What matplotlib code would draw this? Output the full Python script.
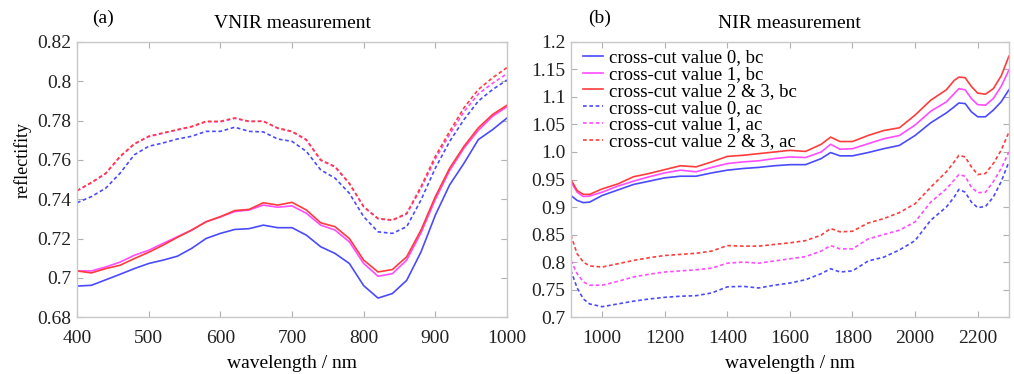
"""
Spectres de réflectivité VNIR / NIR (cross-cut values, bc / ac)
"""
import matplotlib
matplotlib.use('Agg')
import matplotlib.pyplot as plt

# VNIR
wl_vnir = [400, 420, 440, 460, 480, 500, 520, 540, 560, 580, 600, 620, 640, 660, 680, 700,
           720, 740, 760, 780, 800, 820, 840, 860, 880, 900, 920, 940, 960, 980, 1000]
vnir_bc0 = [0.6958, 0.6962, 0.6990, 0.7018, 0.7047, 0.7073, 0.7090, 0.7110, 0.7150, 0.7200, 0.7226,
            0.7246, 0.7250, 0.7268, 0.7255, 0.7255, 0.7217, 0.7158, 0.7124, 0.7073, 0.6960, 0.6897,
            0.6920, 0.6987, 0.7132, 0.7319, 0.7473, 0.7583, 0.7703, 0.7754, 0.7813]
vnir_bc1 = [0.7035, 0.7035, 0.7055, 0.7080, 0.7115, 0.7140, 0.7175, 0.7209, 0.7243, 0.7285, 0.7310,
            0.7337, 0.7345, 0.7370, 0.7359, 0.7366, 0.7328, 0.7268, 0.7243, 0.7183, 0.7073, 0.7008,
            0.7021, 0.7090, 0.7229, 0.7399, 0.7546, 0.7660, 0.7750, 0.7822, 0.7870]
vnir_bc23 = [0.7035, 0.7025, 0.7047, 0.7064, 0.7098, 0.7130, 0.7166, 0.7206, 0.7243, 0.7285, 0.7311,
             0.7342, 0.7348, 0.7382, 0.7370, 0.7384, 0.7345, 0.7280, 0.7260, 0.7200, 0.7090, 0.7030,
             0.7042, 0.7107, 0.7243, 0.7413, 0.7558, 0.7669, 0.7763, 0.7831, 0.7878]
vnir_ac0 = [0.7382, 0.7413, 0.7456, 0.7532, 0.7626, 0.7669, 0.7686, 0.7706, 0.7720, 0.7745, 0.7745,
            0.7766, 0.7745, 0.7742, 0.7706, 0.7694, 0.7643, 0.7549, 0.7507, 0.7430, 0.7311, 0.7234,
            0.7226, 0.7260, 0.7396, 0.7558, 0.7694, 0.7805, 0.7899, 0.7958, 0.8006]
vnir_ac1 = [0.7442, 0.7483, 0.7530, 0.7615, 0.7680, 0.7718, 0.7735, 0.7752, 0.7768, 0.7794, 0.7793,
            0.7811, 0.7795, 0.7797, 0.7760, 0.7743, 0.7700, 0.7597, 0.7563, 0.7479, 0.7360, 0.7300,
            0.7292, 0.7324, 0.7455, 0.7605, 0.7730, 0.7845, 0.7935, 0.7990, 0.8038]
vnir_ac23 = [0.7444, 0.7485, 0.7532, 0.7618, 0.7682, 0.7720, 0.7737, 0.7754, 0.7770, 0.7796, 0.7796,
             0.7813, 0.7796, 0.7796, 0.7762, 0.7745, 0.7703, 0.7600, 0.7566, 0.7481, 0.7362, 0.7302,
             0.7294, 0.7328, 0.7464, 0.7618, 0.7745, 0.7865, 0.7958, 0.8018, 0.8069]

# NIR
wl_nir = [900, 920, 940, 960, 1000, 1050, 1100, 1150, 1200, 1250, 1300, 1350, 1400, 1450, 1500,
          1550, 1600, 1650, 1700, 1730, 1760, 1800, 1850, 1900, 1950, 2000, 2050, 2100, 2125,
          2140, 2160, 2180, 2200, 2225, 2250, 2275, 2300]
nir_bc0 = [0.921, 0.912, 0.908, 0.909, 0.921, 0.931, 0.941, 0.947, 0.953, 0.956, 0.956, 0.962, 0.967,
           0.970, 0.972, 0.975, 0.977, 0.977, 0.988, 0.999, 0.993, 0.993, 0.999, 1.006, 1.012, 1.030,
           1.053, 1.071, 1.082, 1.089, 1.088, 1.073, 1.064, 1.064, 1.076, 1.091, 1.113]
nir_bc1 = [0.946, 0.927, 0.919, 0.920, 0.927, 0.938, 0.947, 0.955, 0.962, 0.967, 0.964, 0.972, 0.979,
           0.982, 0.984, 0.988, 0.991, 0.990, 1.000, 1.014, 1.005, 1.006, 1.015, 1.024, 1.030, 1.049,
           1.074, 1.091, 1.106, 1.115, 1.113, 1.097, 1.086, 1.085, 1.097, 1.119, 1.149]
nir_bc23 = [0.950, 0.930, 0.923, 0.923, 0.933, 0.942, 0.955, 0.961, 0.968, 0.975, 0.973, 0.982, 0.992,
            0.994, 0.997, 1.000, 1.003, 1.001, 1.014, 1.027, 1.019, 1.019, 1.030, 1.039, 1.044, 1.067,
            1.094, 1.113, 1.130, 1.136, 1.135, 1.119, 1.107, 1.105, 1.115, 1.138, 1.174]
nir_ac0 = [0.785, 0.753, 0.733, 0.724, 0.719, 0.724, 0.729, 0.733, 0.736, 0.738, 0.739, 0.744, 0.755,
           0.756, 0.753, 0.758, 0.762, 0.768, 0.779, 0.788, 0.782, 0.784, 0.802, 0.809, 0.822, 0.839,
           0.876, 0.900, 0.918, 0.932, 0.927, 0.909, 0.899, 0.901, 0.918, 0.946, 0.982]
nir_ac1 = [0.803, 0.779, 0.764, 0.758, 0.758, 0.765, 0.773, 0.778, 0.782, 0.784, 0.786, 0.789, 0.798,
           0.800, 0.798, 0.802, 0.806, 0.810, 0.820, 0.830, 0.824, 0.824, 0.842, 0.850, 0.858, 0.873,
           0.909, 0.933, 0.949, 0.959, 0.956, 0.936, 0.926, 0.927, 0.946, 0.970, 1.000]
nir_ac23 = [0.849, 0.815, 0.800, 0.793, 0.791, 0.797, 0.803, 0.808, 0.812, 0.814, 0.816, 0.820, 0.830,
            0.829, 0.829, 0.832, 0.835, 0.839, 0.849, 0.861, 0.855, 0.856, 0.871, 0.879, 0.890, 0.906,
            0.936, 0.964, 0.982, 0.994, 0.991, 0.973, 0.959, 0.961, 0.979, 1.003, 1.036]

labels = ['cross-cut value 0, bc', 'cross-cut value 1, bc', 'cross-cut value 2 & 3, bc',
          'cross-cut value 0, ac', 'cross-cut value 1, ac', 'cross-cut value 2 & 3, ac']
vnir_ticks_y = [0.68, 0.70, 0.72, 0.74, 0.76, 0.78, 0.80, 0.82]
vnir_ticklabels_y = ['0.68', '0.7', '0.72', '0.74', '0.76', '0.78', '0.8', '0.82']
nir_ticks_y = [0.7, 0.75, 0.8, 0.85, 0.9, 0.95, 1.0, 1.05, 1.1, 1.15, 1.2]
nir_ticklabels_y = ['0.7', '0.75', '0.8', '0.85', '0.9', '0.95', '1.0', '1.05', '1.1', '1.15', '1.2']

plt.rcParams['font.family'] = ['Liberation Serif', 'DejaVu Serif']
plt.rcParams['font.size'] = 13

colors = ['#4a4aff', '#ff4cff', '#ff3c3c']
dash = (0, (2.2, 1.6))

fig = plt.figure(figsize=(10.14, 3.74), dpi=100)
ax1 = fig.add_axes([0.076, 0.152, 0.424, 0.736])
ax2 = fig.add_axes([0.563, 0.152, 0.432, 0.736])


def style_axes(ax):
    for s in ax.spines.values():
        s.set_color('#c8c8c8')
        s.set_linewidth(1.0)
    ax.tick_params(direction='in', top=True, right=True, color='#b0b0b0',
                   length=4, labelsize=14, labelcolor='#222222')
    ax.tick_params(axis='x', pad=9)
    ax.tick_params(axis='y', pad=4)


# (a) VNIR
for ys, c in zip([vnir_bc0, vnir_bc1, vnir_bc23], colors):
    ax1.plot(wl_vnir, ys, color=c, lw=1.2)
for ys, c in zip([vnir_ac0, vnir_ac1, vnir_ac23], colors):
    ax1.plot(wl_vnir, ys, color=c, lw=1.2, linestyle=dash)
ax1.set_xlim(400, 1000)
ax1.set_ylim(0.68, 0.82)
ax1.set_yticks(vnir_ticks_y)
ax1.set_yticklabels(vnir_ticklabels_y)
ax1.set_xticks(range(400, 1001, 100))
ax1.set_xlabel('wavelength / nm', fontsize=14, labelpad=6)
ax1.set_ylabel('reflectifity', fontsize=13)
ax1.yaxis.set_label_coords(-0.105, 0.57)
ax1.set_title('VNIR measurement', fontsize=14, pad=10)
ax1.text(0.035, 1.07, '(a)', transform=ax1.transAxes, fontsize=14)
style_axes(ax1)

# (b) NIR
lines = []
for ys, c in zip([nir_bc0, nir_bc1, nir_bc23], colors):
    lines += ax2.plot(wl_nir, ys, color=c, lw=1.2)
for ys, c in zip([nir_ac0, nir_ac1, nir_ac23], colors):
    lines += ax2.plot(wl_nir, ys, color=c, lw=1.2, linestyle=dash)
ax2.set_xlim(900, 2300)
ax2.set_ylim(0.7, 1.2)
ax2.set_yticks(nir_ticks_y)
ax2.set_yticklabels(nir_ticklabels_y)
ax2.set_xticks(range(1000, 2201, 200))
ax2.set_xlabel('wavelength / nm', fontsize=14, labelpad=6)
ax2.set_title('NIR measurement', fontsize=14, pad=10)
ax2.text(0.04, 1.07, '(b)', transform=ax2.transAxes, fontsize=14)
ax2.legend(lines, labels, loc='upper left', frameon=False, fontsize=13.5,
           handlelength=1.1, handletextpad=0.3, labelspacing=-0.02,
           borderaxespad=0.0, bbox_to_anchor=(0.01, 1.0))
style_axes(ax2)

fig.savefig('out.png', dpi=100)
